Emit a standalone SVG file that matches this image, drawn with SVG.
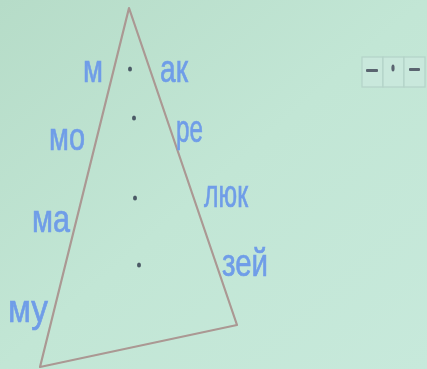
<svg xmlns="http://www.w3.org/2000/svg" width="427" height="369" viewBox="0 0 427 369">
<defs>
<linearGradient id="bg" x1="0" y1="0" x2="1" y2="1">
<stop offset="0" stop-color="#b6dcc8"/>
<stop offset="0.5" stop-color="#c2e6d5"/>
<stop offset="1" stop-color="#c7e9db"/>
</linearGradient>
<filter id="soft" x="-10%" y="-10%" width="120%" height="120%">
<feGaussianBlur stdDeviation="0.5"/>
</filter>
<style>
.lbl{font-family:"Liberation Sans",Arial,sans-serif;font-size:39px;fill:#6f9de8;stroke:#6f9de8;stroke-width:0.7;}
.dot{fill:#4c5a66;}
.cell{fill:#c9e8dc;stroke:#b4d3c8;stroke-width:1.2;}
.mk{fill:#5a6470;}
</style>
</defs>
<rect width="427" height="369" fill="url(#bg)"/>
<g id="connectors">
<polygon id="triangle" points="129,8 237,325 40,367" fill="none" stroke="#ab9893" stroke-width="2.2" stroke-linejoin="round" filter="url(#soft)"/>
</g>
<g id="dots" filter="url(#soft)">
<ellipse class="dot" cx="130" cy="69" rx="2" ry="2.6"/>
<ellipse class="dot" cx="134" cy="118" rx="2" ry="2.6"/>
<ellipse class="dot" cx="135" cy="198" rx="2" ry="2.6"/>
<ellipse class="dot" cx="139" cy="265" rx="2" ry="2.6"/>
</g>
<g id="labels-left" filter="url(#soft)">
<text class="lbl" x="83" y="82" textLength="20" lengthAdjust="spacingAndGlyphs">м</text>
<text class="lbl" x="49" y="150" textLength="36" lengthAdjust="spacingAndGlyphs">мо</text>
<text class="lbl" x="32" y="232" textLength="38" lengthAdjust="spacingAndGlyphs">ма</text>
<text class="lbl" x="8" y="322" textLength="40" lengthAdjust="spacingAndGlyphs">му</text>
</g>
<g id="labels-right" filter="url(#soft)">
<text class="lbl" x="160" y="82" textLength="28" lengthAdjust="spacingAndGlyphs">ак</text>
<text class="lbl" x="176" y="142" textLength="27" lengthAdjust="spacingAndGlyphs">ре</text>
<text class="lbl" x="204" y="207" textLength="44" lengthAdjust="spacingAndGlyphs">люк</text>
<text class="lbl" x="222" y="276" textLength="46" lengthAdjust="spacingAndGlyphs">зей</text>
</g>
<g id="morse-box">
<rect class="cell" x="362" y="57" width="21" height="30"/>
<rect class="cell" x="383" y="57" width="21" height="30"/>
<rect class="cell" x="404" y="57" width="21" height="30"/>
<rect class="mk" x="366" y="69" width="12" height="3" rx="1"/>
<ellipse class="mk" cx="393" cy="68" rx="1.6" ry="3.5"/>
<rect class="mk" x="409" y="68" width="11" height="3" rx="1"/>
</g>
</svg>
